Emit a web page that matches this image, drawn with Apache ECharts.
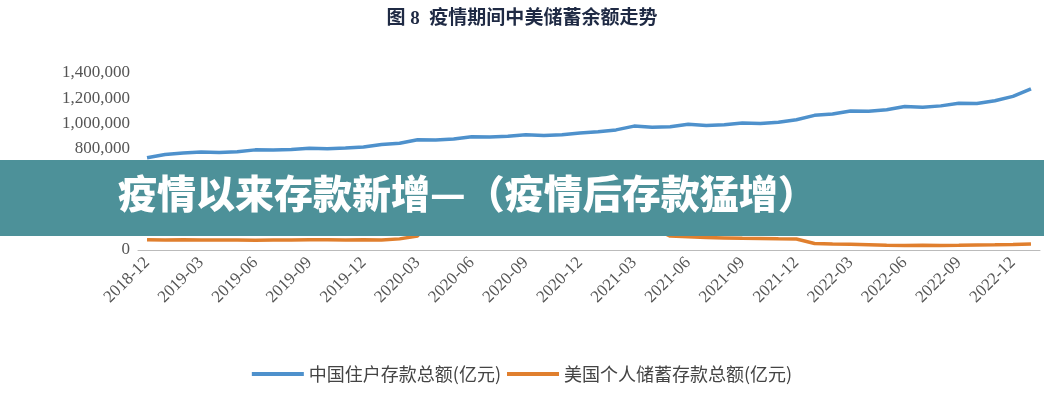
<!DOCTYPE html><html><head><meta charset="utf-8"><script src="https://cdn.jsdelivr.net/npm/echarts@6/dist/echarts.min.js"></script>
<style>body{margin:0;background:#fff}#c{width:1044px;height:400px}</style></head><body><div id="c"></div><script>
const months=[];for(let y=2018,m=12;months.length<50;){months.push(y+'-'+String(m).padStart(2,'0'));m++;if(m>12){m=1;y++;}}
const chinaDeposits=[730000,755000,768000,776000,772000,778000,792000,790000,795000,805000,800000,806000,815000,835000,845000,872000,870000,878000,896000,893000,900000,912000,905000,912000,925000,935000,950000,980000,970000,975000,995000,985000,990000,1005000,1000000,1010000,1030000,1065000,1075000,1100000,1098000,1110000,1135000,1130000,1140000,1160000,1158000,1180000,1215000,1275000];
const usSavings=[82000,80000,81000,80000,79000,79000,78000,79000,80000,81000,81000,80000,82000,79000,88000,110000,440000,300000,230000,200000,170000,160000,150000,140000,150000,250000,170000,350000,180000,110000,105000,98000,95000,92000,90000,88000,87000,52000,48000,45000,42000,38000,35000,37000,36000,37000,39000,41000,44000,48000];
const yTicks=[0,200000,400000,600000,800000,1000000,1200000,1400000];
const ch=echarts.init(document.getElementById('c'));
ch.setOption({
 animation:false,
 title:{text:'图 8  疫情期间中美储蓄余额走势',left:'center',top:5,textStyle:{fontFamily:'Liberation Serif, Noto Sans CJK SC',fontSize:19,fontWeight:'bold',color:'#1f2a44'}},
 grid:{left:138,right:4,top:73,bottom:150},
 legend:{bottom:12,left:'center',itemWidth:52,itemHeight:4,itemGap:6,icon:'rect',textStyle:{fontSize:18,color:'#444',fontFamily:'Noto Sans CJK SC'},data:['中国住户存款总额(亿元)','美国个人储蓄存款总额(亿元)']},
 xAxis:{type:'category',data:months,axisLine:{lineStyle:{color:'#bbb'}},axisTick:{interval:2,lineStyle:{color:'#bbb'}},
  axisLabel:{interval:2,rotate:45,fontFamily:'Liberation Serif',fontSize:17,color:'#555',margin:10}},
 yAxis:{type:'value',min:0,max:1400000,interval:200000,splitLine:{show:false},axisLine:{show:false},axisTick:{show:false},
  axisLabel:{fontFamily:'Liberation Serif',fontSize:17,color:'#555',formatter:v=>v.toLocaleString('en-US')}},
 series:[
  {name:'中国住户存款总额(亿元)',type:'line',data:chinaDeposits,showSymbol:false,itemStyle:{color:'#4e91cc'},lineStyle:{width:3.5,color:'#4e91cc'}},
  {name:'美国个人储蓄存款总额(亿元)',type:'line',data:usSavings,showSymbol:false,itemStyle:{color:'#e07f2e'},lineStyle:{width:3.5,color:'#e07f2e'}}
 ],
 graphic:[
  {type:'rect',shape:{x:0,y:160,width:1044,height:76},style:{fill:'#4d9199'},z:100},
  {type:'text',left:118,top:174,style:{text:'疫情以来存款新增—（疫情后存款猛增）',fill:'#fff',font:'900 39px "Noto Sans CJK SC"'},z:101}
 ]
});
</script></body></html>
